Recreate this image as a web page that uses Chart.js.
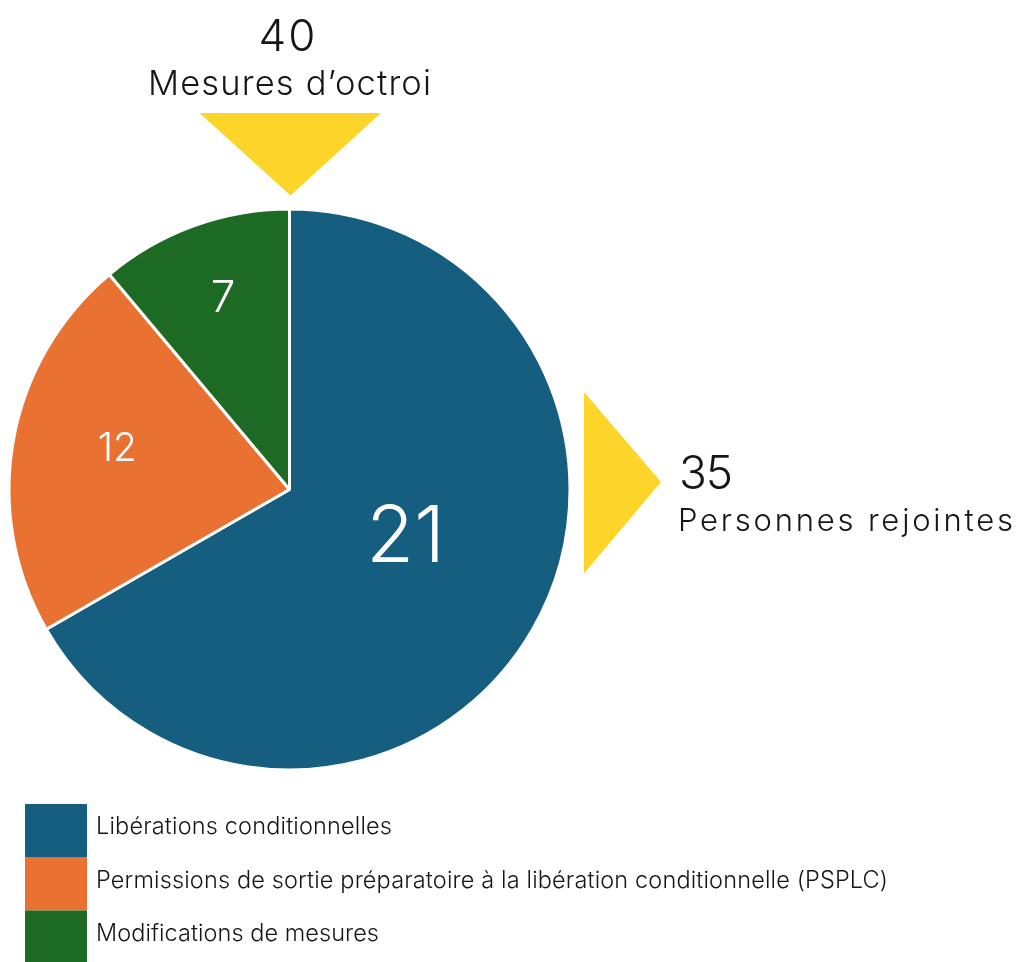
<!DOCTYPE html>
<html><head><meta charset="utf-8">
<script src="https://cdn.jsdelivr.net/npm/chart.js@4"></script>
<style>html,body{margin:0;padding:0;background:#fff;overflow:hidden}</style>
</head><body>
<canvas id="c" width="1021" height="962"></canvas>
<script>
// ---- data ----
const categories = [
  'Libérations conditionnelles',
  'Permissions de sortie préparatoire à la libération conditionnelle (PSPLC)',
  'Modifications de mesures'
];
const sliceShares = [66.7, 22.2, 11.1];      // share of the pie as drawn (percent)
const sliceCounts = ['21', '12', '7'];        // numbers printed in the slices
const grantedLabel = ['40', 'Mesures d’octroi'];
const reachedLabel = ['35', 'Personnes rejointes'];

// ---- style ----
const colors = ['#165E80', '#E97233', '#1C6A24'];
const YELLOW = '#FDD52A';
const FONT = 'Inter';
const INK = '#161616';
const sliceLabelStyle = [
  {size: 78, rFrac: 0.45, nudge: -7},
  {size: 39, rFrac: 0.63, nudge: 3},
  {size: 44, rFrac: 0.72, nudge: 0.8}
];

function drawText(ctx, s, x, y, size, opts) {
  opts = opts || {};
  ctx.save();
  ctx.font = (opts.weight || 300) + ' ' + size + 'px ' + FONT;
  ctx.fillStyle = opts.color || INK;
  ctx.textBaseline = opts.baseline || 'alphabetic';
  let spacing = 0;
  if (opts.width) {
    const w = ctx.measureText(s).width;
    spacing = (opts.width - w) / Math.max(s.length - 1, 1);
    if ('letterSpacing' in ctx) ctx.letterSpacing = spacing + 'px';
  }
  let drawX = x;
  const total = ctx.measureText(s).width - (('letterSpacing' in ctx) ? spacing : 0);
  if (opts.align === 'center') drawX = x - total / 2;
  ctx.textAlign = 'left';
  ctx.fillText(s, drawX, y);
  ctx.restore();
}

const decorations = {
  id: 'decorations',
  afterDatasetsDraw(chart) {
    const ctx = chart.ctx;
    const meta = chart.getDatasetMeta(0);
    meta.data.forEach((arc, i) => {
      const st = sliceLabelStyle[i];
      const mid = (arc.startAngle + arc.endAngle) / 2 + st.nudge * Math.PI / 180;
      const r = arc.outerRadius * st.rFrac;
      const x = arc.x + Math.cos(mid) * r;
      const y = arc.y + Math.sin(mid) * r;
      ctx.save();
      ctx.font = '300 ' + st.size + 'px ' + FONT;
      ctx.fillStyle = '#ffffff';
      ctx.textAlign = 'center';
      ctx.textBaseline = 'middle';
      ctx.fillText(sliceCounts[i], x, y);
      ctx.restore();
    });
  },
  afterDraw(chart) {
    const ctx = chart.ctx;
    ctx.save();
    ctx.fillStyle = YELLOW;
    ctx.beginPath();
    ctx.moveTo(199.5, 113); ctx.lineTo(381, 113); ctx.lineTo(290.5, 195.5); ctx.closePath(); ctx.fill();
    ctx.beginPath();
    ctx.moveTo(584, 392); ctx.lineTo(661, 482); ctx.lineTo(584, 573.5); ctx.closePath(); ctx.fill();
    ctx.restore();

    drawText(ctx, grantedLabel[0], 287, 51, 44, {align: 'center', width: 57});
    drawText(ctx, grantedLabel[1], 289.5, 95, 34.5, {align: 'center', width: 283});
    drawText(ctx, reachedLabel[0], 679, 489, 46, {width: 54});
    drawText(ctx, reachedLabel[1], 678, 531, 31, {width: 335});

    const boxTop = [804, 857, 910.5];
    const boxH = [53, 53.5, 51.5];
    const baselines = [834, 887.5, 941];
    const widths = [296, 792, 283];
    categories.forEach((c, i) => {
      ctx.fillStyle = colors[i];
      ctx.fillRect(25, boxTop[i], 62, boxH[i]);
      drawText(ctx, c, 96, baselines[i], 23.5, {width: widths[i]});
    });
  }
};

new Chart(document.getElementById('c'), {
  type: 'pie',
  data: {
    labels: categories,
    datasets: [{
      data: sliceShares,
      backgroundColor: colors,
      borderColor: '#ffffff',
      borderWidth: 3,
      hoverOffset: 0,
      offset: 0
    }]
  },
  options: {
    responsive: false,
    animation: false,
    radius: 280.5,
    layout: {padding: {left: 0, top: 200, right: 442, bottom: 183}},
    plugins: {legend: {display: false}, tooltip: {enabled: false}, title: {display: false}}
  },
  plugins: [decorations]
});
</script>
</body></html>
